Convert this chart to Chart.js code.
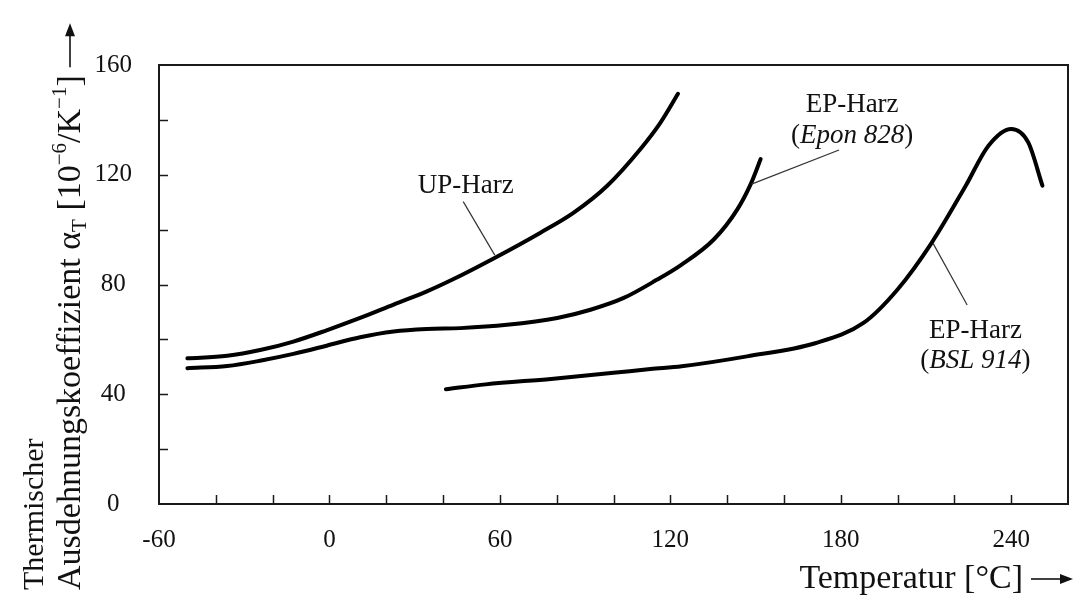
<!DOCTYPE html>
<html>
<head>
<meta charset="utf-8">
<script src="https://cdn.jsdelivr.net/npm/chart.js@4.4.1/dist/chart.umd.min.js"></script>
<style>
  html, body { margin: 0; padding: 0; background: #fff; }
  canvas { display: block; }
</style>
</head>
<body>
<canvas id="c" width="1076" height="596"></canvas>
<script>
// ---- data: thermal expansion coefficient vs. temperature ----
const temperatureTicks = [-60, 0, 60, 120, 180, 240];   // labelled x ticks [°C]
const alphaTicks = [0, 40, 80, 120, 160];               // labelled y ticks [1e-6/K]

// UP resin
const upHarzT     = [-50, -36, -24, -12.7, -1, 10.8, 22.6, 34.3, 43.7, 57.8, 74.3, 86, 97.8, 109.5, 116.6, 122.7];
const upHarzAlpha = [53.1, 54, 56.2, 59.2, 63.3, 67.8, 72.7, 77.5, 82, 89.5, 98.9, 106.2, 116, 129.4, 139.1, 149.5];

// EP resin, Epon 828
const eponT     = [-50, -36, -24, -12.7, -1, 10.8, 22.6, 34.3, 46.1, 62.5, 80.2, 91.9, 103.6, 115.4, 123.6, 135.3, 143.6, 148.3, 151.8];
const eponAlpha = [49.5, 50.3, 52.3, 54.7, 57.7, 60.8, 62.9, 63.8, 64.1, 65.3, 67.8, 70.8, 75.1, 81.8, 87, 96.4, 107.4, 116.6, 125.7];

// EP resin, BSL 914
const bslT     = [41, 55, 78, 100, 113, 124, 147, 171, 188, 200, 212, 224, 232, 240, 246, 251];
const bslAlpha = [41.8, 43.6, 45.6, 47.8, 49.2, 50.2, 53.8, 58.6, 66, 78.2, 95.2, 116, 130.6, 136.7, 131.8, 116];

const FONT = '"Liberation Serif", "Times New Roman", Times, serif';
const INK = '#111';

function toPoints(xs, ys) { return xs.map((x, i) => ({ x, y: ys[i] })); }

function curve(label, xs, ys) {
  return {
    label,
    data: toPoints(xs, ys),
    borderColor: '#000',
    borderWidth: 4,
    pointRadius: 0,
    fill: false,
    cubicInterpolationMode: 'monotone',
    borderCapStyle: 'round'
  };
}

// Callout labels with leader lines, placed in data units
const callouts = [
  {
    lines: [[{ t: 'UP-Harz' }]],
    at: [[48.0, 113.3]],
    leader: [[47.1, 110.2], [58.2, 90.7]]
  },
  {
    lines: [[{ t: 'EP-Harz' }], [{ t: '(' }, { t: 'Epon 828', i: true }, { t: ')' }]],
    at: [[184.0, 143.0], [184.0, 131.6]],
    leader: [[179.4, 129.0], [148.6, 116.6]]
  },
  {
    lines: [[{ t: 'EP-Harz' }], [{ t: '(' }, { t: 'BSL 914', i: true }, { t: ')' }]],
    at: [[227.4, 60.6], [227.4, 49.5]],
    leader: [[224.5, 72.5], [212.5, 95.0]]
  }
];

// Frame around the plot area and inward tick marks
const framePlugin = {
  id: 'frame',
  afterDatasetsDraw(chart) {
    const { ctx, chartArea: a, scales: { x, y } } = chart;
    ctx.save();
    ctx.strokeStyle = '#1a1a1a';
    ctx.lineWidth = 1.5;
    x.ticks.forEach(t => {
      if (t.value <= x.min || t.value >= x.max) return;
      const px = Math.round(x.getPixelForValue(t.value)) + 0.5;
      ctx.beginPath(); ctx.moveTo(px, a.bottom); ctx.lineTo(px, a.bottom - 9); ctx.stroke();
    });
    y.ticks.forEach(t => {
      if (t.value <= y.min || t.value >= y.max) return;
      const py = Math.round(y.getPixelForValue(t.value)) + 0.5;
      ctx.beginPath(); ctx.moveTo(a.left, py); ctx.lineTo(a.left + 9, py); ctx.stroke();
    });
    ctx.lineWidth = 2;
    ctx.strokeRect(a.left, a.top, a.right - a.left, a.bottom - a.top);
    ctx.restore();
  }
};

// Curve callouts
const calloutPlugin = {
  id: 'callouts',
  afterDatasetsDraw(chart) {
    const { ctx, scales: { x, y } } = chart;
    ctx.save();
    callouts.forEach(c => {
      ctx.strokeStyle = '#333';
      ctx.lineWidth = 1.2;
      ctx.beginPath();
      ctx.moveTo(x.getPixelForValue(c.leader[0][0]), y.getPixelForValue(c.leader[0][1]));
      ctx.lineTo(x.getPixelForValue(c.leader[1][0]), y.getPixelForValue(c.leader[1][1]));
      ctx.stroke();
      c.lines.forEach((segs, k) => {
        const fontOf = s => (s.i ? 'italic ' : '') + '27px ' + FONT;
        let w = 0;
        segs.forEach(s => { ctx.font = fontOf(s); w += ctx.measureText(s.t).width; });
        let cx = x.getPixelForValue(c.at[k][0]) - w / 2;
        const by = y.getPixelForValue(c.at[k][1]);
        ctx.fillStyle = INK;
        ctx.textBaseline = 'alphabetic';
        ctx.textAlign = 'left';
        segs.forEach(s => {
          ctx.font = fontOf(s);
          ctx.fillText(s.t, cx, by);
          cx += ctx.measureText(s.t).width;
        });
      });
    });
    ctx.restore();
  }
};

function arrow(ctx, x0, y0, x1, y1) {
  const ang = Math.atan2(y1 - y0, x1 - x0);
  const len = 13, half = 5;
  ctx.beginPath();
  ctx.moveTo(x0, y0);
  ctx.lineTo(x1 - Math.cos(ang) * len * 0.8, y1 - Math.sin(ang) * len * 0.8);
  ctx.stroke();
  ctx.beginPath();
  ctx.moveTo(x1, y1);
  ctx.lineTo(x1 - Math.cos(ang) * len - Math.sin(ang) * half, y1 - Math.sin(ang) * len + Math.cos(ang) * half);
  ctx.lineTo(x1 - Math.cos(ang) * len + Math.sin(ang) * half, y1 - Math.sin(ang) * len - Math.cos(ang) * half);
  ctx.closePath();
  ctx.fill();
}

// Axis titles with sub/superscripts and direction arrows
const titlePlugin = {
  id: 'axisTitles',
  afterDraw(chart) {
    const { ctx, chartArea: a } = chart;
    ctx.save();
    ctx.fillStyle = INK;
    ctx.strokeStyle = INK;
    ctx.lineWidth = 1.6;
    ctx.textBaseline = 'alphabetic';
    ctx.textAlign = 'left';

    // x axis title
    const big = '34px ' + FONT;
    const small = '21px ' + FONT;
    ctx.font = big;
    const xt = 'Temperatur [°C]';
    const xw = ctx.measureText(xt).width;
    const xEnd = a.right + 5;
    const xStart = xEnd - 50 - xw;
    const xBase = 588;
    ctx.fillText(xt, xStart, xBase);
    arrow(ctx, xStart + xw + 8, xBase - 9, xEnd, xBase - 9);

    // y axis title (two lines, rotated)
    const yStart = 590;
    ctx.save();
    ctx.translate(43, yStart);
    ctx.rotate(-Math.PI / 2);
    ctx.font = '30px ' + FONT;
    ctx.fillText('Thermischer', 0, 0);
    ctx.restore();

    ctx.save();
    ctx.translate(80, yStart);
    ctx.rotate(-Math.PI / 2);
    const segs = [
      { t: 'Ausdehnungskoeffizient α', f: big, dy: 0 },
      { t: 'T', f: small, dy: 6 },
      { t: ' [10', f: big, dy: 0 },
      { t: '−6', f: small, dy: -14 },
      { t: '/K', f: big, dy: 0 },
      { t: '−1', f: small, dy: -14 },
      { t: ']', f: big, dy: 0 }
    ];
    let cx = 0;
    segs.forEach(s => {
      ctx.font = s.f;
      ctx.fillText(s.t, cx, s.dy);
      cx += ctx.measureText(s.t).width;
    });
    arrow(ctx, cx + 8, -10, cx + 52, -10);
    ctx.restore();

    ctx.restore();
  }
};

new Chart(document.getElementById('c'), {
  type: 'line',
  data: {
    datasets: [
      curve('UP-Harz', upHarzT, upHarzAlpha),
      curve('EP-Harz (Epon 828)', eponT, eponAlpha),
      curve('EP-Harz (BSL 914)', bslT, bslAlpha)
    ]
  },
  options: {
    responsive: false,
    animation: false,
    layout: { padding: { left: 0, right: 8, top: 65, bottom: 0 } },
    plugins: { legend: { display: false }, tooltip: { enabled: false } },
    scales: {
      x: {
        type: 'linear',
        min: -60,
        max: 260,
        grid: { display: false, drawTicks: false },
        border: { display: false },
        ticks: {
          stepSize: 20,
          autoSkip: false,
          maxRotation: 0,
          minRotation: 0,
          padding: 21,
          color: INK,
          font: { family: FONT, size: 25 },
          callback: v => temperatureTicks.includes(v) ? String(v) : ''
        },
        afterFit(scale) {
          scale.height = 92;
          scale.paddingLeft = 0;
          scale.paddingRight = 0;
        }
      },
      y: {
        type: 'linear',
        min: 0,
        max: 160,
        grid: { display: false, drawTicks: false },
        border: { display: false },
        ticks: {
          stepSize: 20,
          autoSkip: false,
          padding: 27,
          crossAlign: 'center',
          color: INK,
          font: { family: FONT, size: 25 },
          callback: v => alphaTicks.includes(v) ? String(v) : ''
        },
        afterFit(scale) { scale.width = 159; }
      }
    }
  },
  plugins: [framePlugin, calloutPlugin, titlePlugin]
});
</script>
</body>
</html>
